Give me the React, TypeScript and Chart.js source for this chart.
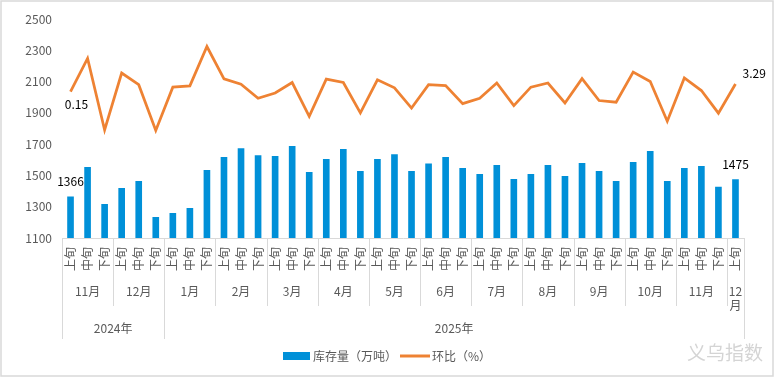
import { useEffect, useRef } from "react";
import { Chart, registerables } from "chart.js";

Chart.register(...registerables);

const periodLabels = [
  "上旬", "中旬", "下旬", "上旬", "中旬", "下旬",
  "上旬", "中旬", "下旬", "上旬", "中旬", "下旬",
  "上旬", "中旬", "下旬", "上旬", "中旬", "下旬",
  "上旬", "中旬", "下旬", "上旬", "中旬", "下旬",
  "上旬", "中旬", "下旬", "上旬", "中旬", "下旬",
  "上旬", "中旬", "下旬", "上旬", "中旬", "下旬",
  "上旬", "中旬", "下旬", "上旬",
];

const monthLabels = ["11月", "12月", "1月", "2月", "3月", "4月", "5月", "6月", "7月", "8月", "9月", "10月", "11月", "12月"];
const monthSpans = [3, 3, 3, 3, 3, 3, 3, 3, 3, 3, 3, 3, 3, 1];

const yearLabels = ["2024年", "2025年"];
const yearSpans = [6, 34];

const inventory = [
  1366, 1554, 1317, 1420, 1464, 1234, 1260, 1292, 1535, 1618,
  1673, 1629, 1624, 1688, 1522, 1605, 1669, 1528, 1605, 1635,
  1528, 1577, 1618, 1547, 1509, 1567, 1477, 1509, 1567, 1496,
  1579, 1528, 1464, 1586, 1656, 1464, 1547, 1560, 1428, 1475,
];

const momChange = [
  0.15, 13.8, -15.6, 7.8, 3.0, -15.8, 2.0, 2.5, 18.7, 5.4,
  3.2, -2.6, -0.4, 3.9, -10.0, 5.3, 3.9, -8.6, 5.0, 1.7,
  -6.6, 3.0, 2.6, -4.8, -2.6, 3.7, -5.6, 2.0, 3.7, -4.5,
  5.5, -3.5, -4.2, 8.2, 4.3, -12.0, 5.8, 0.6, -8.7, 3.29,
];

const yTicks = [1100, 1300, 1500, 1700, 1900, 2100, 2300, 2500];

const seriesNames = ["库存量（万吨）", "环比（%）"];
const watermark = "义乌指数";

const FONT = '"Noto Sans CJK SC", "Noto Sans", sans-serif';
const BAR_COLOR = "#0090D8";
const LINE_COLOR = "#EE8233";
const GRID_COLOR = "#d9d9d9";
const TEXT_COLOR = "#595959";

const decorPlugin = {
  id: "decor",
  beforeDraw(chart: any) {
    const ctx = chart.ctx;
    ctx.save();
    ctx.fillStyle = "#ffffff";
    ctx.fillRect(0, 0, chart.width, chart.height);
    ctx.strokeStyle = GRID_COLOR;
    ctx.lineWidth = 1.5;
    ctx.strokeRect(1, 1, chart.width - 3, chart.height - 4);
    ctx.restore();
  },
  afterDraw(chart: any) {
    const { ctx, chartArea } = chart;
    const xs = chart.scales.x;
    const n = inventory.length;
    const w = (chartArea.right - chartArea.left) / n;
    const edge = (i: number) => (i < n ? xs.getPixelForValue(i) - w / 2 : xs.getPixelForValue(n - 1) + w / 2);
    const base = chartArea.bottom;

    ctx.save();
    ctx.strokeStyle = GRID_COLOR;
    ctx.lineWidth = 1;
    ctx.font = `12px ${FONT}`;
    ctx.fillStyle = TEXT_COLOR;
    ctx.textAlign = "center";
    ctx.textBaseline = "middle";
    let idx = 0;
    const drawV = (x: number, y2: number) => {
      const px = Math.round(x) + 0.5;
      ctx.beginPath();
      ctx.moveTo(px, base);
      ctx.lineTo(px, y2);
      ctx.stroke();
    };
    monthLabels.forEach((label, k) => {
      const x0 = edge(idx);
      const x1 = edge(idx + monthSpans[k]);
      drawV(x0, base + 68);
      if (k === monthLabels.length - 1) drawV(x1, base + 68);
      const cx = (x0 + x1) / 2;
      if (ctx.measureText(label).width > x1 - x0) {
        ctx.fillText(label.slice(0, -1), cx, base + 53);
        ctx.fillText(label.slice(-1), cx, base + 67);
      } else {
        ctx.fillText(label, cx, base + 53);
      }
      idx += monthSpans[k];
    });
    idx = 0;
    yearLabels.forEach((label, k) => {
      const x0 = edge(idx);
      const x1 = edge(idx + yearSpans[k]);
      drawV(x0, base + 101);
      if (k === yearLabels.length - 1) drawV(x1, base + 101);
      ctx.fillText(label, (x0 + x1) / 2, base + 90);
      idx += yearSpans[k];
    });

    ctx.fillStyle = "#000000";
    ctx.font = `12px ${FONT}`;
    const barMeta = chart.getDatasetMeta(1);
    const lineMeta = chart.getDatasetMeta(0);
    const b0 = barMeta.data[0];
    const bl = barMeta.data[n - 1];
    ctx.textAlign = "center";
    ctx.fillText(String(inventory[0]), b0.x, b0.y - 15);
    ctx.fillText(String(inventory[n - 1]), bl.x, bl.y - 15);
    const p0 = lineMeta.data[0];
    const pl = lineMeta.data[n - 1];
    ctx.fillText(momChange[0].toFixed(2), p0.x + 6, p0.y + 13);
    ctx.textAlign = "left";
    ctx.fillText(momChange[n - 1].toFixed(2), pl.x + 7, pl.y - 11);

    const ly = 356;
    ctx.fillStyle = BAR_COLOR;
    ctx.fillRect(283, ly - 4, 27, 8);
    ctx.fillStyle = TEXT_COLOR;
    ctx.textAlign = "left";
    ctx.fillText(seriesNames[0], 313, ly);
    ctx.strokeStyle = LINE_COLOR;
    ctx.lineWidth = 3;
    ctx.beginPath();
    ctx.moveTo(400, ly);
    ctx.lineTo(430, ly);
    ctx.stroke();
    ctx.fillText(seriesNames[1], 432, ly);

    ctx.fillStyle = "#d4d4d4";
    ctx.font = `19px ${FONT}`;
    ctx.textAlign = "left";
    ctx.fillText(watermark, 687, 353);
    ctx.restore();
  },
};

export default function App() {
  const ref = useRef<HTMLCanvasElement | null>(null);

  useEffect(() => {
    document.body.style.margin = "0";
    if (!ref.current) return;
    const chart = new Chart(ref.current, {
      type: "bar",
      data: {
        labels: periodLabels,
        datasets: [
          {
            type: "line",
            label: seriesNames[1],
            data: momChange,
            yAxisID: "y1",
            borderColor: LINE_COLOR,
            borderWidth: 2.75,
            pointRadius: 0,
            tension: 0,
            fill: false,
          } as any,
          {
            type: "bar",
            label: seriesNames[0],
            data: inventory,
            yAxisID: "y",
            backgroundColor: BAR_COLOR,
            categoryPercentage: 1,
            barPercentage: 0.39,
          },
        ],
      },
      options: {
        responsive: false,
        animation: false,
        devicePixelRatio: 1,
        layout: { padding: { top: 19, right: 31, bottom: 0, left: 0 } },
        plugins: {
          legend: { display: false },
          tooltip: { enabled: false },
        },
        scales: {
          x: {
            grid: { display: false, drawTicks: false },
            border: { display: true, color: GRID_COLOR, width: 1 },
            ticks: {
              autoSkip: false,
              minRotation: 90,
              maxRotation: 90,
              padding: 9,
              color: TEXT_COLOR,
              font: { family: FONT, size: 12 },
            },
            afterFit(scale: any) {
              scale.height = 141;
            },
          },
          y: {
            min: 1100,
            max: 2500,
            grid: { display: false, drawTicks: false },
            border: { display: false },
            afterBuildTicks(scale: any) {
              scale.ticks = yTicks.map((v) => ({ value: v }));
            },
            ticks: {
              padding: 10,
              color: TEXT_COLOR,
              font: { family: FONT, size: 12 },
              callback: (v: any) => String(v),
            },
            afterFit(scale: any) {
              scale.width = 62;
            },
          },
          y1: {
            display: false,
            position: "right",
            min: -60,
            max: 30,
          },
        },
      },
      plugins: [decorPlugin],
    });
    return () => chart.destroy();
  }, []);

  return <canvas ref={ref} width={775} height={379} style={{ display: "block" }} />;
}
